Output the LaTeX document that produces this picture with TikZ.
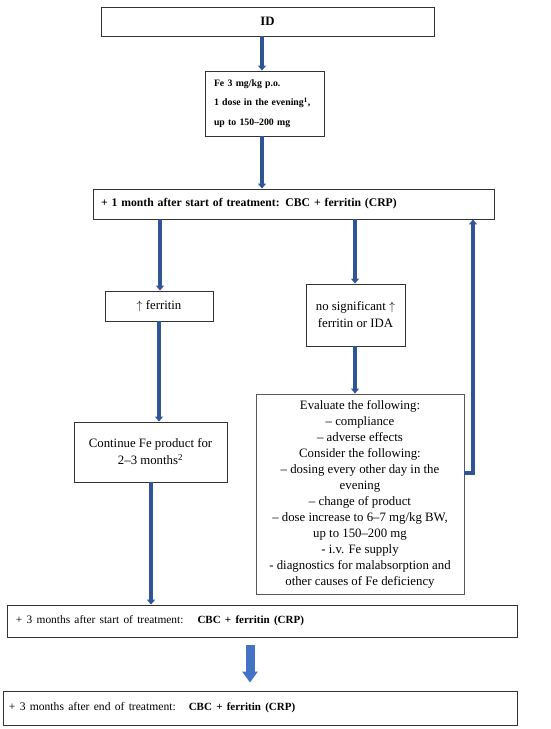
\documentclass[tikz,border=0pt]{standalone}
\usepackage{fontspec}
\setmainfont{Liberation Serif}
\usetikzlibrary{arrows.meta,calc}
\definecolor{arrblue}{HTML}{2F5597}
\definecolor{bigblue}{HTML}{4472C4}
\begin{document}
\begin{tikzpicture}[x=1pt,y=-1pt,
  box/.style={draw=black!80, line width=0.9pt, inner sep=0pt, align=center,
    font=\fontsize{12.8}{17}\selectfont},
  arr/.style={draw=arrblue, line width=3.2pt, -{Triangle[width=8pt,length=5pt]}},
  bigarr/.style={draw=bigblue, line width=9pt, -{Triangle[width=15pt,length=11pt]},
    shorten <=8pt, shorten >=8pt},
]
\useasboundingbox (0,0) rectangle (550,729);

% helper x positions
\coordinate (xa) at (262,0);
\coordinate (xb) at (160,0);
\coordinate (xc) at (355,0);
\coordinate (xd) at (159,0);
\coordinate (xe) at (151,0);
\coordinate (xf) at (250,0);
\coordinate (fb) at (473,473);

\node[box, minimum width=333pt, minimum height=29pt] (id) at (267.5,21.5) {\textbf{ID}};

\node[box, minimum width=119pt, minimum height=65pt, align=left, text width=101pt,
  inner xsep=9pt, font=\bfseries\fontsize{9.8}{19.5}\selectfont] (fe) at (264.5,103.5)
  {Fe 3 mg/kg p.o.\\1 dose in the evening\textsuperscript{1},\\up to 150–200 mg};

\node[box, minimum width=401pt, minimum height=30pt, align=left, text width=385pt,
  inner xsep=8pt, font=\bfseries\fontsize{11.7}{13}\selectfont] (m1) at (293.5,204)
  {+ 1 month after start of treatment: CBC + ferritin (CRP)};

\node[box, minimum width=108pt, minimum height=30pt] (uf) at (159,306) {$\uparrow$ ferritin};

\node[box, minimum width=99pt, minimum height=62pt] (ns) at (355.5,315)
  {no significant $\uparrow$\\ferritin or IDA};

\node[box, draw=black!65, minimum width=208pt, minimum height=200pt,
  font=\fontsize{12.8}{16}\selectfont] (ev) at (360,494)
  {Evaluate the following:\\– compliance\\– adverse effects\\Consider the following:\\
   – dosing every other day in the\\evening\\– change of product\\
   – dose increase to 6–7 mg/kg BW,\\up to 150–200 mg\\- i.v. Fe supply\\
   - diagnostics for malabsorption and\\other causes of Fe deficiency};

\node[box, minimum width=153pt, minimum height=60pt] (cont) at (150.5,452)
  {Continue Fe product for\\2–3 months\textsuperscript{2}};

\node[box, minimum width=510pt, minimum height=32pt, align=left, text width=492pt,
  inner xsep=9pt] (m3) at (262,621)
  {{\fontsize{11.4}{12}\selectfont + 3 months after start of treatment:}\hspace{14pt}{\bfseries\fontsize{11}{12}\selectfont CBC + ferritin (CRP)}};

\node[box, minimum width=514pt, minimum height=34pt, align=left, text width=502pt,
  inner xsep=6pt] (end) at (260,708)
  {{\fontsize{11.6}{12}\selectfont + 3 months after end of treatment:}\hspace{13pt}{\bfseries\fontsize{11}{12}\selectfont CBC + ferritin (CRP)}};

% connectors
\draw[arr] (id.south -| xa) -- (fe.north -| xa);
\draw[arr] (fe.south -| xa) -- (m1.north -| xa);
\draw[arr] (m1.south -| xb) -- (uf.north -| xb);
\draw[arr] (m1.south -| xc) -- (ns.north -| xc);
\draw[arr] (ns.south -| xc) -- (ev.north -| xc);
\draw[arr] (uf.south -| xd) -- (cont.north -| xd);
\draw[arr] (cont.south -| xe) -- (m3.north -| xe);
\draw[arr] (ev.east |- fb) -- (fb) -- (fb |- m1.south);
\draw[bigarr] (m3.south -| xf) -- (end.north -| xf);
\end{tikzpicture}
\end{document}
